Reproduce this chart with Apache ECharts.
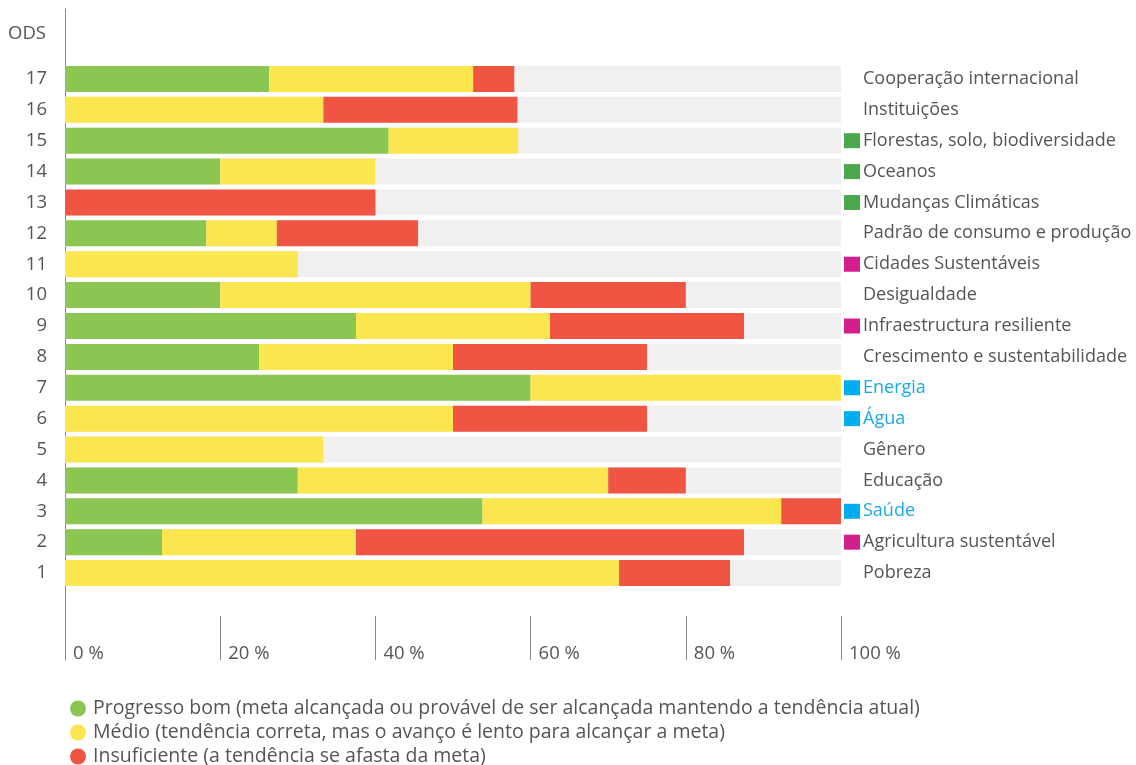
<!DOCTYPE html>
<html>
<head>
<meta charset="utf-8">
<script src="https://cdn.jsdelivr.net/npm/echarts@6/dist/echarts.min.js"></script>
<style>html,body{margin:0;padding:0;background:#fff;}#c{width:1136px;height:765px;}</style>
</head>
<body>
<div id="c"></div>
<script>
const categories = ['1','2','3','4','5','6','7','8','9','10','11','12','13','14','15','16','17'];
const goalNames = ['Pobreza','Agricultura sustentável','Saúde','Educação','Gênero','Água','Energia','Crescimento e sustentabilidade','Infraestructura resiliente','Desigualdade','Cidades Sustentáveis','Padrão de consumo e produção','Mudanças Climáticas','Oceanos','Florestas, solo, biodiversidade','Instituições','Cooperação internacional'];
const goalMarkers = ['', 'm', 'b', '', '', 'b', 'b', '', 'm', '', 'm', '', 'g', 'g', 'g', '', ''];
const seriesNames = ['Progresso bom (meta alcançada ou provável de ser alcançada mantendo a tendência atual)','Médio (tendência correta, mas o avanço é lento para alcançar a meta)','Insuficiente (a tendência se afasta da meta)'];
const goodValues = [0, 12.5, 53.8, 30, 0, 0, 60, 25, 37.5, 20, 0, 18.2, 0, 20, 41.7, 0, 26.3];
const mediumValues = [71.4, 25, 38.5, 40, 33.3, 50, 40, 25, 25, 40, 30, 9.1, 0, 20, 16.7, 33.3, 26.3];
const badValues = [14.3, 50, 7.7, 10, 0, 25, 0, 25, 25, 20, 0, 18.2, 40, 0, 0, 25, 5.3];
const xTicks = [0, 20, 40, 60, 80, 100];

const FONT = 'Open Sans';
const FS = 18.5;
const FSR = 18;
const TXT = '#555555';
const chart = echarts.init(document.getElementById('c'), null, {renderer:'canvas'});
const colors = ['#8bc653', '#fce650', '#f05442'];
const barW = 26;
chart.setOption({
  animation: false,
  textStyle: {fontFamily: FONT},
  title: {text: 'ODS', left: 3, top: 19, textStyle: {fontFamily: FONT, fontSize: FS, fontWeight: 'normal', color: TXT}},
  legend: {
    orient: 'vertical', left: 65, top: 693, height: 80, itemGap: 3, itemWidth: 16, itemHeight: 16, icon: 'circle',
    data: seriesNames,
    textStyle: {fontFamily: FONT, fontSize: 19.5, color: TXT, lineHeight: 21, padding: [0,0,0,2]}
  },
  grid: [
    {left: 65, right: 295, top: 63.5, bottom: 176.5, outerBoundsMode: 'none'},
    {left: 65, right: 295, top: 9, bottom: 105, outerBoundsMode: 'none'}
  ],
  xAxis: [
    {gridIndex: 0, type: 'value', min: 0, max: 100, show: false},
    {gridIndex: 1, type: 'value', min: xTicks[0], max: xTicks[xTicks.length-1], interval: 20,
     axisLine: {show: false}, splitLine: {show: false},
     axisTick: {show: true, inside: true, length: 44, lineStyle: {color: '#888', width: 1}},
     axisLabel: {inside: true, margin: -3, align: 'left', padding: [0,0,0,8], formatter: '{value} %',
       fontFamily: FONT, fontSize: FS, color: TXT}}
  ],
  yAxis: [
    {gridIndex: 0, type: 'category', data: categories, axisLine: {show: false}, axisTick: {show: false},
     axisLabel: {margin: 18, fontFamily: FONT, fontSize: FS, color: TXT}},
    {gridIndex: 0, type: 'category', data: categories, position: 'right', axisLine: {show: false}, axisTick: {show: false},
     axisLabel: {margin: 3, align: 'left',
       formatter: function (v, i) {
         const m = goalMarkers[i];
         const t = goalNames[i];
         if (m === '') return '{n|}{t|' + t + '}';
         return '{' + m + '|}' + (m === 'b' ? '{tb|' + t + '}' : '{t|' + t + '}');
       },
       rich: {
         n: {width: 16, height: 15},
         g: {width: 16, height: 15, backgroundColor: '#4ca84d'},
         m: {width: 16, height: 15, backgroundColor: '#d41e8d'},
         b: {width: 16, height: 15, backgroundColor: '#00aeef'},
         t: {fontFamily: FONT, fontSize: FSR, color: TXT, padding: [0,0,0,3]},
         tb: {fontFamily: FONT, fontSize: FSR, color: '#1aa9e6', padding: [0,0,0,3]}
       }}},
    {gridIndex: 1, type: 'value', min: 0, max: 1, axisLine: {show: true, lineStyle: {color: '#888', width: 1}},
     axisTick: {show: false}, axisLabel: {show: false}, splitLine: {show: false}}
  ],
  series: [
    {name: seriesNames[0], type: 'bar', stack: 's', xAxisIndex: 0, yAxisIndex: 0, barWidth: barW, data: goodValues,
     itemStyle: {color: colors[0]}, showBackground: true, backgroundStyle: {color: '#f0f0f0'}},
    {name: seriesNames[1], type: 'bar', stack: 's', xAxisIndex: 0, yAxisIndex: 0, barWidth: barW, data: mediumValues,
     itemStyle: {color: colors[1]}},
    {name: seriesNames[2], type: 'bar', stack: 's', xAxisIndex: 0, yAxisIndex: 0, barWidth: barW, data: badValues,
     itemStyle: {color: colors[2]}}
  ]
});
</script>
</body>
</html>
